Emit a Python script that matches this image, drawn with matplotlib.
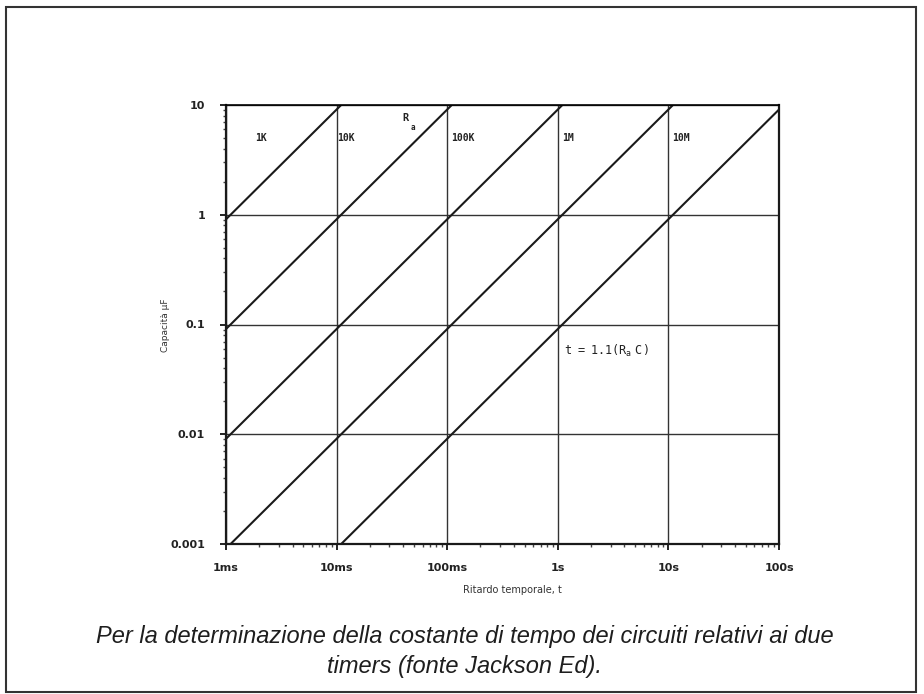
import matplotlib.pyplot as plt
from matplotlib.patches import Rectangle

# timing resistor values (ohm) and the monostable constant t = 1.1 * Ra * C
resistances = [1e3, 1e4, 1e5, 1e6, 1e7]
r_labels = ['1K', '10K', '100K', '1M', '10M']
k_timer = 1.1
cap_range = [0.001, 10]          # capacitance, uF

x_ticks = [1e-3, 1e-2, 1e-1, 1, 10, 100]
x_ticklabels = ['1ms', '10ms', '100ms', '1s', '10s', '100s']
y_ticks = [0.001, 0.01, 0.1, 1, 10]
y_ticklabels = ['0.001', '0.01', '0.1', '1', '10']

# where the resistor names sit (seconds, uF)
label_t = [1.85e-3, 10.2e-3, 0.108, 1.09, 10.9]
label_c = 5.0

W, H = 924, 694
fig = plt.figure(figsize=(W / 100, H / 100), dpi=100)
ax = fig.add_axes([226 / W, 1 - 544 / H, (779 - 226) / W, (544 - 105) / H])

for r in resistances:
    t = [k_timer * r * c * 1e-6 for c in cap_range]
    ax.plot(t, cap_range, color='#1a1a1a', lw=1.5, solid_capstyle='butt')

ax.set_xscale('log')
ax.set_yscale('log')
ax.set_xlim(1e-3, 100)
ax.set_ylim(0.001, 10)

ax.set_xticks(x_ticks)
ax.set_xticklabels(x_ticklabels)
ax.set_yticks(y_ticks)
ax.set_yticklabels(y_ticklabels)
ax.grid(True, which='major', color='#333333', lw=1.0)

for lab in ax.get_xticklabels() + ax.get_yticklabels():
    lab.set_fontweight('bold')
    lab.set_fontsize(8)
    lab.set_color('#222222')

ax.tick_params(which='major', direction='out', length=4, width=1.4,
               color='#222222')
ax.tick_params(which='minor', direction='out', length=2.5, width=1.0,
               color='#444444')
ax.tick_params(axis='x', which='major', pad=10)
ax.tick_params(axis='y', which='major', pad=11)
ax.tick_params(axis='y', which='minor', labelleft=False)
ax.tick_params(axis='x', which='minor', labelbottom=False)

for side in ['left', 'bottom', 'right']:
    ax.spines[side].set_linewidth(1.6)
    ax.spines[side].set_color('#1a1a1a')
ax.spines['top'].set_linewidth(1.2)

for name, t in zip(r_labels, label_t):
    ax.text(t, label_c, name, fontsize=7, fontweight='bold',
            family='DejaVu Sans Mono', color='#222222', ha='left', va='center')

ax.text(0.039, 7.6, 'R', fontsize=7.5, fontweight='bold',
        family='DejaVu Sans Mono', color='#222222', ha='left', va='center')
ax.text(0.047, 6.2, 'a', fontsize=5.5, fontweight='bold',
        family='DejaVu Sans Mono', color='#222222', ha='left', va='center')
ax.text(1.13, 0.057, r'$\mathtt{t\ =\ 1.1(R_{a}\ C)}$', fontsize=8.5,
        color='#222222', ha='left', va='center')

fig.text(166 / W, 1 - 325 / H, 'Capacità µF', rotation=90, fontsize=6.5,
         color='#333333', ha='center', va='center')
fig.text(512 / W, 1 - 590 / H, 'Ritardo temporale, t', fontsize=7,
         color='#333333', ha='center', va='center')

fig.text(0.503, 1 - 636 / H,
         'Per la determinazione della costante di tempo dei circuiti relativi ai due',
         fontsize=17, style='italic', family='Liberation Sans',
         color='#1e1e1e', ha='center', va='center')
fig.text(0.503, 1 - 666 / H, 'timers (fonte Jackson Ed).',
         fontsize=17, style='italic', family='Liberation Sans',
         color='#1e1e1e', ha='center', va='center')

# outer frame around figure and caption
fig.patches.append(Rectangle((6 / W, 1 - 692 / H), (916 - 6) / W, (692 - 7) / H,
                             transform=fig.transFigure, fill=False,
                             edgecolor='#333333', lw=1.5))

fig.savefig('out.png', dpi=100)
